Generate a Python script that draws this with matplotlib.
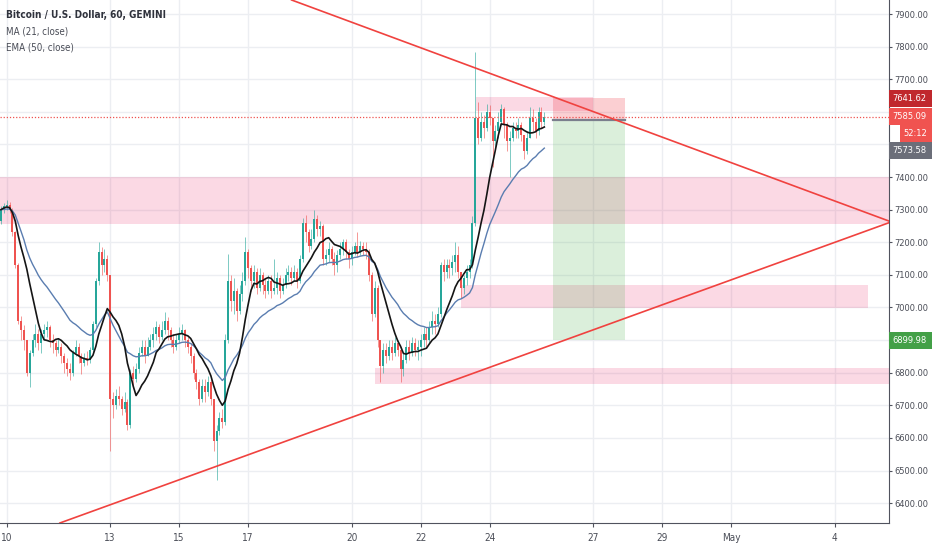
import matplotlib
matplotlib.use('Agg')
import matplotlib.pyplot as plt
from matplotlib import font_manager as fm
import numpy as np
import pandas as pd
from matplotlib.patches import Rectangle

# ---------------- data (2-hour bars, x in April day numbers) ----------------
start_day = 9.8333
bar_days = 2 / 24
first_open = 7265

closes = [
    7300, 7310, 7315, 7300, 7230, 7130, 6960, 6930, 6900, 6800,
    6860, 6900, 6920, 6890, 6920, 6930, 6940, 6900, 6890, 6870,
    6880, 6850, 6830, 6810, 6800, 6860, 6880, 6850, 6830, 6845,
    6840, 6870, 6950, 7080, 7170, 7130, 7150, 7100, 6720, 6700,
    6730, 6720, 6690, 6710, 6640, 6800, 6780, 6810, 6860, 6880,
    6850, 6880, 6900, 6920, 6940, 6910, 6930, 6960, 6930, 6900,
    6880, 6900, 6920, 6930, 6900, 6880, 6850, 6800, 6770, 6720,
    6760, 6740, 6770, 6720, 6590, 6620, 6660, 6650, 6900, 7080,
    7020, 7050, 6990, 7040, 7080, 7170, 7120, 7080, 7110, 7060,
    7100, 7070, 7050, 7080, 7050, 7060, 7090, 7050, 7070, 7100,
    7110, 7090, 7110, 7080, 7150, 7260, 7230, 7190, 7210, 7270,
    7240, 7250, 7150, 7160, 7180, 7150, 7130, 7160, 7180, 7200,
    7170, 7150, 7170, 7190, 7170, 7190, 7180, 7170, 7100, 6980,
    7060, 6900, 6820, 6870, 6850, 6880, 6860, 6890, 6870, 6810,
    6840, 6880, 6860, 6890, 6870, 6880, 6900, 6920, 6900, 6940,
    6960, 6950, 6980, 7130, 7110, 7130, 7120, 7140, 7160, 7110,
    7060, 7090, 7110, 7130, 7260, 7580, 7520, 7570, 7550, 7600,
    7580, 7510, 7540, 7570, 7610, 7560, 7510, 7520, 7550, 7540,
    7560, 7530, 7480, 7520, 7580, 7570, 7540, 7600, 7570, 7585,
]
highs = [
    7310, 7320, 7330, 7325, 7305, 7235, 7135, 6975, 6945, 6890,
    6870, 6920, 6950, 6935, 6935, 6950, 6960, 6945, 6920, 6900,
    6905, 6890, 6860, 6845, 6830, 6870, 6900, 6890, 6860, 6860,
    6865, 6880, 6960, 7090, 7200, 7185, 7180, 7160, 7100, 6740,
    6750, 6760, 6730, 6740, 6720, 6810, 6820, 6830, 6880, 6900,
    6900, 6910, 6920, 6940, 6960, 6950, 6960, 6985, 6970, 6940,
    6920, 6920, 6940, 6950, 6935, 6910, 6890, 6860, 6810, 6780,
    6780, 6780, 6790, 6780, 6720, 6640, 6680, 6690, 6920, 7165,
    7100, 7090, 7060, 7070, 7110, 7216, 7180, 7130, 7130, 7120,
    7120, 7110, 7090, 7100, 7100, 7150, 7110, 7100, 7090, 7120,
    7130, 7125, 7130, 7120, 7160, 7275, 7285, 7240, 7240, 7300,
    7285, 7265, 7255, 7180, 7200, 7190, 7170, 7175, 7200, 7210,
    7210, 7180, 7190, 7200, 7230, 7205, 7200, 7200, 7180, 7110,
    7080, 7070, 6900, 6890, 6890, 6900, 6900, 6910, 6900, 6880,
    6860, 6900, 6900, 6910, 6905, 6900, 6920, 6940, 6940, 6960,
    6990, 6980, 7000, 7140, 7150, 7150, 7150, 7160, 7200, 7190,
    7110, 7100, 7130, 7150, 7280, 7784, 7630, 7600, 7590, 7625,
    7620, 7580, 7560, 7600, 7625, 7615, 7570, 7540, 7570, 7570,
    7580, 7570, 7530, 7540, 7615, 7610, 7580, 7615, 7615, 7600,
]
lows = [
    7255, 7290, 7300, 7290, 7220, 7120, 6950, 6900, 6870, 6790,
    6757, 6850, 6880, 6870, 6860, 6900, 6910, 6880, 6860, 6850,
    6860, 6830, 6800, 6790, 6777, 6790, 6850, 6830, 6795, 6820,
    6825, 6830, 6860, 6940, 7070, 7100, 7110, 7080, 6560, 6660,
    6690, 6700, 6670, 6680, 6625, 6630, 6760, 6770, 6800, 6850,
    6830, 6850, 6870, 6880, 6900, 6890, 6900, 6920, 6900, 6880,
    6860, 6870, 6890, 6900, 6880, 6860, 6830, 6780, 6750, 6700,
    6710, 6710, 6730, 6700, 6560, 6470, 6610, 6630, 6640, 6890,
    6990, 6980, 6960, 6980, 7020, 7070, 7090, 7050, 7060, 7040,
    7050, 7040, 7030, 7040, 7030, 7040, 7040, 7030, 7040, 7060,
    7080, 7070, 7080, 7060, 7075, 7140, 7200, 7170, 7180, 7200,
    7220, 7220, 7130, 7130, 7140, 7130, 7100, 7110, 7150, 7160,
    7150, 7120, 7130, 7160, 7155, 7160, 7160, 7150, 7080, 6960,
    6970, 6880, 6770, 6800, 6830, 6840, 6840, 6850, 6850, 6770,
    6790, 6830, 6840, 6850, 6850, 6840, 6850, 6880, 6880, 6890,
    6920, 6920, 6940, 6970, 7080, 7090, 7090, 7100, 7110, 7090,
    7030, 7040, 7070, 7090, 7120, 7250, 7500, 7510, 7520, 7540,
    7560, 7430, 7490, 7520, 7560, 7520, 7480, 7400, 7510, 7520,
    7520, 7510, 7455, 7470, 7520, 7540, 7520, 7530, 7550, 7560,
]

ma_window = 10      # MA(21, close) on 1h ~ 10 bars of 2h
ema_span = 25       # EMA(50, close) on 1h ~ 25 bars of 2h

tick_days = [10, 13, 15, 17, 20, 22, 24, 27, 29, 31, 34]
tick_labels = ['10', '13', '15', '17', '20', '22', '24', '27', '29', 'May', '4']
price_ticks = list(range(6400, 8000, 100))

# support/resistance zones
zone_day_start = [9.5, 23.17, 20.68, 23.60]
zone_day_end = [36.5, 34.97, 36.5, 26.99]
zone_low = [7255, 6998, 6765, 7604]
zone_high = [7400, 7070, 6815, 7644]

# short position tool
entry_price, stop_price, target_price = 7573.58, 7641.62, 6899.98
pos_start, pos_end = 25.84, 27.93
last_price = 7585.09
countdown = '52:12'

# trend lines (two points each)
upper_line = [(21.40, 7820), (35.574, 7265)]
lower_line = [(11.594, 6341), (35.574, 7260)]

x_limits = (9.806, 35.574)
y_limits = (6339, 7943)

# ---------------- fonts ----------------
_fonts = fm.fontManager.ttflist
_names = {f.name for f in _fonts}
if 'Liberation Sans Narrow' in _names:
    FONT = dict(family=['Liberation Sans Narrow', 'DejaVu Sans'], stretch='normal')
    AX_SIZE, HEAD_SIZE = 7.8, 8.0
elif any(f.name == 'DejaVu Sans' and str(f.stretch) in ('condensed', 'semi-condensed') for f in _fonts):
    FONT = dict(family=['DejaVu Sans'], stretch='condensed')
    AX_SIZE, HEAD_SIZE = 6.7, 7.0
else:
    FONT = dict(family=['Liberation Sans', 'DejaVu Sans'], stretch='normal')
    AX_SIZE, HEAD_SIZE = 6.5, 6.8

# ---------------- styling ----------------
UP = '#26a69a'
DOWN = '#ef5350'
TXT = '#4a4d57'
H, W = 550, 932
lab_h = 17
axis_x = 889

fig = plt.figure(figsize=(9.32, 5.5), dpi=100)
fig.patch.set_facecolor('white')
ax = fig.add_axes([0, 27 / H, axis_x / W, 523 / H])
ax.set_facecolor('white')
ax.set_xlim(*x_limits)
ax.set_ylim(*y_limits)


def price_to_px(p):
    return H - ax.transData.transform((x_limits[0], p))[1]   # pixels from top


# right-side price label layout (stacked so they do not overlap)
labels = [
    (f'{stop_price:.2f}', stop_price, '#c0282d', axis_x),
    (f'{last_price:.2f}', last_price, '#f05350', axis_x),
    (countdown, last_price, '#f05350', 900),
    (f'{entry_price:.2f}', entry_price, '#6b6e79', axis_x),
]
boxes = []
prev_bottom = -1e9
for text, price, col, x_left in labels:
    center = price_to_px(price)
    top = max(center - lab_h / 2, prev_bottom)
    prev_bottom = top + lab_h
    boxes.append((text, top, col, x_left))
center = price_to_px(target_price)
boxes.append((f'{target_price:.2f}', center - lab_h / 2, '#43a047', axis_x))

# ticks / grid (tick labels hidden where a price label covers them)
def covered(p):
    y = price_to_px(p)
    return any(top - 3 <= y <= top + lab_h + 3 for _, top, _, _ in boxes)

ax.set_xticks(tick_days)
ax.set_xticklabels(tick_labels)
ax.set_yticks(price_ticks)
ax.set_yticklabels(['' if covered(p) else f'{p:.2f}' for p in price_ticks])
ax.grid(True, color='#eceef2', lw=1.0, zorder=0)
ax.set_axisbelow(True)

# zones
for x0, x1, lo, hi in zip(zone_day_start, zone_day_end, zone_low, zone_high):
    ax.add_patch(Rectangle((x0, lo), x1 - x0, hi - lo, facecolor=(0.91, 0.12, 0.39, 0.17),
                           edgecolor='none', zorder=1))

# position tool
ax.add_patch(Rectangle((pos_start, entry_price), pos_end - pos_start, stop_price - entry_price,
                       facecolor=(0.94, 0.25, 0.30, 0.25), edgecolor='none', zorder=1.5))
ax.add_patch(Rectangle((pos_start, target_price), pos_end - pos_start, entry_price - target_price,
                       facecolor=(0.30, 0.69, 0.31, 0.20), edgecolor='none', zorder=1.5))
ax.plot([pos_start, pos_end], [entry_price, entry_price], color='#7b7f8d', lw=1.6, zorder=2)

# candles
n = len(closes)
t = start_day + np.arange(n) * bar_days
c = np.array(closes, dtype=float)
o = np.concatenate([[first_open], c[:-1]])
h = np.maximum(np.array(highs, dtype=float), np.maximum(o, c))
l = np.minimum(np.array(lows, dtype=float), np.minimum(o, c))
up = c >= o
cols = np.where(up, UP, DOWN)
ax.vlines(t, l, h, colors=cols, lw=0.7, alpha=0.6, zorder=3)
ax.bar(t, np.maximum(np.abs(c - o), 3), bottom=np.minimum(o, c), width=bar_days * 0.72,
       color=cols, edgecolor='none', zorder=3.2)

# moving averages
s = pd.Series(c)
ma = s.rolling(ma_window, min_periods=1).mean()
ema = s.ewm(span=ema_span, adjust=False).mean()
ax.plot(t, ema, color='#5a7db0', lw=1.0, zorder=4)
ax.plot(t, ma, color='#151515', lw=1.2, zorder=4.2)

# trend lines
ax.axline(upper_line[0], upper_line[1], color='#f0423f', lw=1.2, zorder=5)
ax.axline(lower_line[0], lower_line[1], color='#f0423f', lw=1.2, zorder=5)

# last price dotted line
ax.axhline(last_price, color='#ef5350', lw=0.9, ls=(0, (1, 1.5)), zorder=5)

# axes decoration
for sp in ['top', 'left']:
    ax.spines[sp].set_visible(False)
ax.spines['right'].set_color('#50535e')
ax.spines['bottom'].set_color('#50535e')
ax.yaxis.tick_right()
ax.tick_params(axis='y', length=2.5, width=0.8, color='#50535e', pad=1.2,
               labelsize=AX_SIZE, labelcolor=TXT)
ax.tick_params(axis='x', length=3, width=0.8, color='#50535e', pad=4,
               labelsize=AX_SIZE + 0.5, labelcolor=TXT)
for lab in ax.get_yticklabels() + ax.get_xticklabels():
    lab.set_family(FONT['family'])
    lab.set_stretch(FONT['stretch'])

# header texts
fig.text(6 / W, 1 - 15 / H, 'Bitcoin / U.S. Dollar, 60, GEMINI', fontsize=HEAD_SIZE + 0.2,
         color='#2f323c', va='center', ha='left', weight='semibold', **FONT)
fig.text(6 / W, 1 - 32 / H, 'MA (21, close)', fontsize=HEAD_SIZE,
         color=TXT, va='center', ha='left', **FONT)
fig.text(6 / W, 1 - 48 / H, 'EMA (50, close)', fontsize=HEAD_SIZE,
         color=TXT, va='center', ha='left', **FONT)

# price label boxes
for text, top, col, x_left in boxes:
    fig.patches.append(Rectangle((x_left / W, 1 - (top + lab_h) / H), (W - x_left) / W,
                                 lab_h / H, transform=fig.transFigure, facecolor=col,
                                 edgecolor='none', zorder=10))
    fig.text((x_left + 3) / W, 1 - (top + lab_h / 2) / H, text, fontsize=AX_SIZE,
             color='white', va='center', ha='left', zorder=11, **FONT)

fig.savefig('out.png', dpi=100)
